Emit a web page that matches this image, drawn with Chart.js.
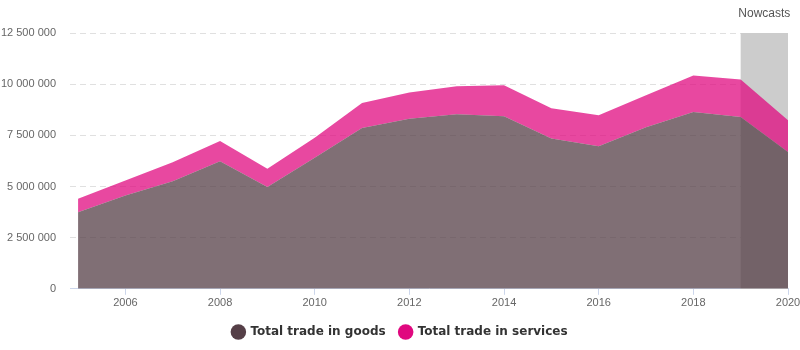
<!DOCTYPE html>
<html>
<head>
<meta charset="utf-8">
<script src="https://cdn.jsdelivr.net/npm/chart.js@4/dist/chart.umd.min.js"></script>
<style>
  body { margin: 0; background: #fff; }
  #wrap { width: 800px; height: 350px; }
</style>
</head>
<body>
<div id="wrap"><canvas id="chart" width="800" height="350"></canvas></div>
<script>
// Data
const years = [2005, 2006, 2007, 2008, 2009, 2010, 2011, 2012, 2013, 2014, 2015, 2016, 2017, 2018, 2019, 2020]
const goods = [3740000, 4560000, 5260000, 6230000, 4970000, 6400000, 7860000, 8310000, 8530000, 8430000, 7350000, 6960000, 7900000, 8640000, 8400000, 6680000]
const services = [660000, 730000, 930000, 990000, 900000, 980000, 1220000, 1280000, 1370000, 1520000, 1470000, 1520000, 1560000, 1780000, 1830000, 1560000]
const yTicks = [0, 2500000, 5000000, 7500000, 10000000, 12500000]
const xTicks = [2006, 2008, 2010, 2012, 2014, 2016, 2018, 2020]
const nowcast = { from: 2019, to: 2020, label: 'Nowcasts' }

// Colours
const goodsColor = '#553f47'
const servicesColor = '#e0087f'

Chart.defaults.font.family = '"Liberation Sans", Arial, sans-serif'
Chart.defaults.font.size = 11
Chart.defaults.color = '#666'

// Grey band behind the last year plus its label
const nowcastBand = {
	id: 'nowcastBand',
	beforeDatasetsDraw(chart) {
		const { ctx, scales: { x, y } } = chart
		const left = x.getPixelForValue(nowcast.from)
		const right = x.getPixelForValue(nowcast.to)
		const top = y.getPixelForValue(yTicks[yTicks.length - 1])
		const bottom = y.getPixelForValue(0)
		ctx.save()
		ctx.fillStyle = '#cccccc'
		ctx.fillRect(left, top, right - left, bottom - top)
		ctx.fillStyle = '#555'
		ctx.font = '12px "Liberation Sans", Arial, sans-serif'
		ctx.textAlign = 'center'
		ctx.textBaseline = 'middle'
		ctx.fillText(nowcast.label, (left + right) / 2, 14)
		ctx.restore()
	}
}

function toPoints(arr) {
	return arr.map((v, i) => ({ x: years[i], y: v }))
}

new Chart(document.getElementById('chart'), {
	type: 'line',
	data: {
		datasets: [
			{
				label: 'Total trade in goods',
				data: toPoints(goods),
				backgroundColor: 'rgba(85,63,71,0.75)',
				borderWidth: 0,
				fill: 'origin',
				pointRadius: 0,
				tension: 0
			},
			{
				label: 'Total trade in services',
				data: toPoints(services),
				backgroundColor: 'rgba(224,8,127,0.74)',
				borderWidth: 0,
				fill: '-1',
				pointRadius: 0,
				tension: 0
			}
		]
	},
	options: {
		responsive: false,
		animation: false,
		layout: { padding: { top: 33, right: 0, left: 0, bottom: 2 } },
		plugins: {
			tooltip: { enabled: false },
			legend: {
				position: 'bottom',
				labels: {
					usePointStyle: true,
					pointStyle: 'circle',
					boxWidth: 16,
					boxHeight: 11,
					padding: 14,
					color: '#333',
					font: { family: '"DejaVu Sans", Verdana, sans-serif', size: 12, weight: 'bold' },
					generateLabels(chart) {
						const items = Chart.defaults.plugins.legend.labels.generateLabels(chart)
						const cols = [goodsColor, servicesColor]
						items.forEach((it, i) => { it.fillStyle = cols[i]; it.strokeStyle = cols[i]; it.lineWidth = 0 })
						return items
					}
				}
			}
		},
		scales: {
			x: {
				type: 'linear',
				min: 2004.83,
				max: 2020,
				afterBuildTicks(scale) { scale.ticks = xTicks.map(v => ({ value: v })) },
				afterFit(scale) { scale.paddingRight = 12 },
				ticks: { callback: v => String(v), maxRotation: 0, padding: 2, color: '#666' },
				grid: { drawOnChartArea: false, tickLength: 6, color: '#ccd6eb' },
				border: { color: '#ccd6eb' }
			},
			y: {
				stacked: true,
				min: 0,
				max: 12500000,
				afterBuildTicks(scale) { scale.ticks = yTicks.map(v => ({ value: v })) },
				afterFit(scale) { scale.width = 70 },
				ticks: {
					padding: 14,
					color: '#666',
					callback: v => v.toLocaleString('en-US').replace(/,/g, ' ')
				},
				grid: { color: '#e0e0e0', drawTicks: false },
				border: { display: false, dash: [6, 4] }
			}
		}
	},
	plugins: [nowcastBand]
})
</script>
</body>
</html>
